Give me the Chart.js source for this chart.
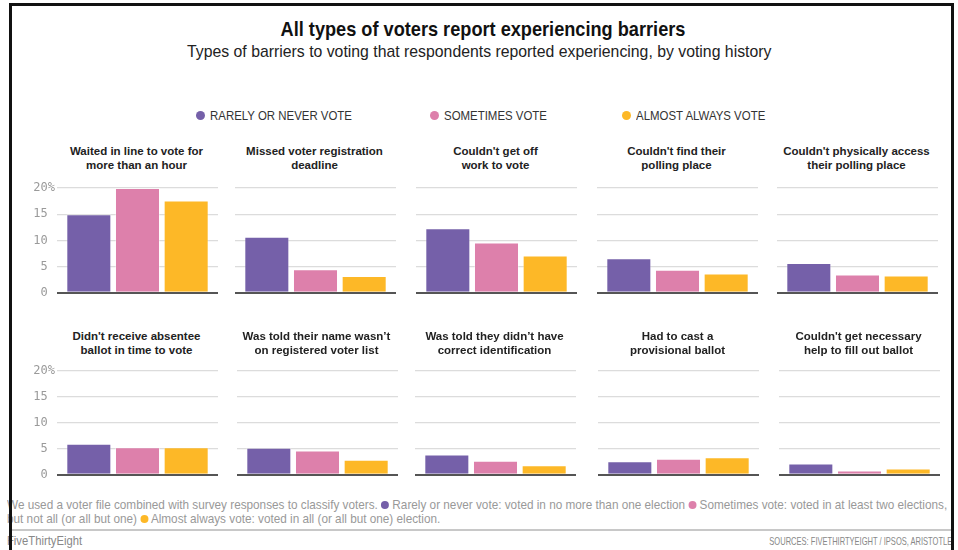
<!DOCTYPE html>
<html><head><meta charset="utf-8">
<script src="https://cdn.jsdelivr.net/npm/chart.js@4.4.1/dist/chart.umd.min.js"></script>
<style>
html,body{margin:0;padding:0;background:#fff}
body{width:958px;height:550px;position:relative;overflow:hidden;font-family:'Liberation Sans',Arial,sans-serif}
#frame{position:absolute;left:9px;top:3px;width:945px;height:600px;box-sizing:border-box;border:3px solid #111;border-bottom:none;z-index:5;pointer-events:none}
.cond{display:inline-block;white-space:nowrap}
#title{position:absolute;left:0;width:965px;top:17px;text-align:center;font-weight:bold;font-size:21px;color:#111}
#title .cond{transform:scaleX(0.865)}
#subtitle{position:absolute;left:0;width:959px;top:42px;text-align:center;font-size:17px;color:#222}
#subtitle .cond{transform:scaleX(0.93)}
.leg{position:absolute;top:108px;font-size:13px;color:#333;white-space:nowrap}
.leg i{display:inline-block;width:9px;height:9px;border-radius:50%;margin-right:5px;vertical-align:0px}
.leg span{display:inline-block;transform:scaleX(0.88);transform-origin:left center}
.ptitle{position:absolute;width:190px;text-align:center;font-weight:bold;font-size:11.5px;line-height:13.5px;color:#222}
.cbox{position:absolute}
#foot{position:absolute;left:7px;top:498px;font-size:13.3px;line-height:13.5px;color:#999;white-space:nowrap;transform:scaleX(0.884);transform-origin:left top}
#foot i{display:inline-block;width:9px;height:8px;border-radius:50%;vertical-align:0px}
#sep{position:absolute;left:12px;width:940px;top:529px;height:2px;background:#c8c8c8}
#brand{position:absolute;left:7px;top:534px;font-size:12.5px;color:#888;transform:scaleX(0.9);transform-origin:left top;white-space:nowrap}
#src{position:absolute;right:6px;top:535px;font-size:11.5px;color:#888;transform:scaleX(0.655);transform-origin:right top;white-space:nowrap}
</style></head>
<body>
<div id="frame"></div>
<div id="title"><span class="cond">All types of voters report experiencing barriers</span></div>
<div id="subtitle"><span class="cond">Types of barriers to voting that respondents reported experiencing, by voting history</span></div>
<div id="legend"></div>
<div id="panels"></div>
<div id="foot">We used a voter file combined with survey responses to classify voters. <i style="background:#7560a9"></i> Rarely or never vote: voted in no more than one election <i style="background:#dd80ab"></i> Sometimes vote: voted in at least two elections,<br>but not all (or all but one) <i style="background:#fdb827"></i> Almost always vote: voted in all (or all but one) election.</div>
<div id="sep"></div>
<div id="brand">FiveThirtyEight</div>
<div id="src">SOURCES: FIVETHIRTYEIGHT / IPSOS, ARISTOTLE</div>
<script>
// ---- data ----
const barriers = [
  ["Waited in line to vote for", "more than an hour"],
  ["Missed voter registration", "deadline"],
  ["Couldn't get off", "work to vote"],
  ["Couldn't find their", "polling place"],
  ["Couldn't physically access", "their polling place"],
  ["Didn't receive absentee", "ballot in time to vote"],
  ["Was told their name wasn\u2019t", "on registered voter list"],
  ["Was told they didn\u2019t have", "correct identification"],
  ["Had to cast a", "provisional ballot"],
  ["Couldn't get necessary", "help to fill out ballot"]
];
const seriesNames = ["RARELY OR NEVER VOTE", "SOMETIMES VOTE", "ALMOST ALWAYS VOTE"];
const rarelyOrNever = [15.0, 10.7, 12.3, 6.6, 5.7, 6.0, 5.2, 3.9, 2.6, 2.2];
const sometimes     = [20.0, 4.5, 9.6, 4.4, 3.5, 5.3, 4.7, 2.7, 3.1, 0.85];
const almostAlways  = [17.6, 3.2, 7.1, 3.7, 3.3, 5.3, 2.9, 1.85, 3.4, 1.2];
const yTickValues = [0, 5, 10, 15, 20];

// ---- styling / layout ----
const colors = ["#7560a9", "#dd80ab", "#fdb827"];
const legendX = [196, 430, 622];
const plotLeft = [57, 235, 416, 597, 777, 57, 237, 415, 598, 779];
const rowTop = [187.7, 371];
const rowBottom = [293.3, 475.7];
const titleTop = [145, 330];
const plotW = 161, axisW = 40, padTop = 10, padBottom = 8;

const legend = document.getElementById('legend');
seriesNames.forEach((n, i) => {
  const d = document.createElement('div');
  d.className = 'leg';
  d.style.left = legendX[i] + 'px';
  d.innerHTML = '<i style="background:' + colors[i] + '"></i><span>' + n + '</span>';
  legend.appendChild(d);
});

const panels = document.getElementById('panels');
const seriesData = [rarelyOrNever, sometimes, almostAlways];
barriers.forEach((t, k) => {
  const row = k < 5 ? 0 : 1;
  const first = k % 5 === 0;
  const pt = document.createElement('div');
  pt.className = 'ptitle';
  pt.style.left = (plotLeft[k] + plotW / 2 - 96) + 'px';
  pt.style.top = titleTop[row] + 'px';
  pt.innerHTML = t[0] + '<br>' + t[1];
  panels.appendChild(pt);

  const plotH = rowBottom[row] - rowTop[row];
  const cw = axisW + plotW, ch = Math.round(padTop + plotH + padBottom);
  const box = document.createElement('div');
  box.className = 'cbox';
  box.style.left = (plotLeft[k] - axisW) + 'px';
  box.style.top = (rowTop[row] - padTop) + 'px';
  box.style.width = cw + 'px'; box.style.height = ch + 'px';
  const cv = document.createElement('canvas');
  cv.width = cw; cv.height = ch;
  cv.style.width = cw + 'px'; cv.style.height = ch + 'px';
  box.appendChild(cv); panels.appendChild(box);

  new Chart(cv, {
    type: 'bar',
    data: {
      labels: [t.join(' ')],
      datasets: seriesNames.map((n, i) => ({
        label: n,
        data: [seriesData[i][k]],
        backgroundColor: colors[i],
        borderColor: 'rgba(255,255,255,0.35)',
        borderWidth: 1,
        categoryPercentage: 0.907,
        barPercentage: 0.925
      }))
    },
    options: {
      responsive: false,
      animation: false,
      events: [],
      layout: { padding: { top: padTop, bottom: padBottom, left: 0, right: 0 } },
      plugins: { legend: { display: false }, tooltip: { enabled: false }, title: { display: false } },
      scales: {
        x: { display: false },
        y: {
          min: 0, max: 20,
          afterFit: s => { s.width = axisW; },
          afterBuildTicks: s => { s.ticks = yTickValues.map(v => ({ value: v })); },
          border: { display: false },
          grid: {
            drawTicks: false,
            color: c => c.tick && c.tick.value === 0 ? '#555' : '#dcdcdc',
            lineWidth: c => c.tick && c.tick.value === 0 ? 2 : 1.3
          },
          ticks: {
            display: true,
            padding: 2,
            color: first ? '#9a9a9a' : 'rgba(0,0,0,0)',
            font: { family: "'DejaVu Sans Mono', monospace", size: 12 },
            callback: v => v === 20 ? '20%' : v + ' '
          }
        }
      }
    }
  });
});
</script>
</body></html>
